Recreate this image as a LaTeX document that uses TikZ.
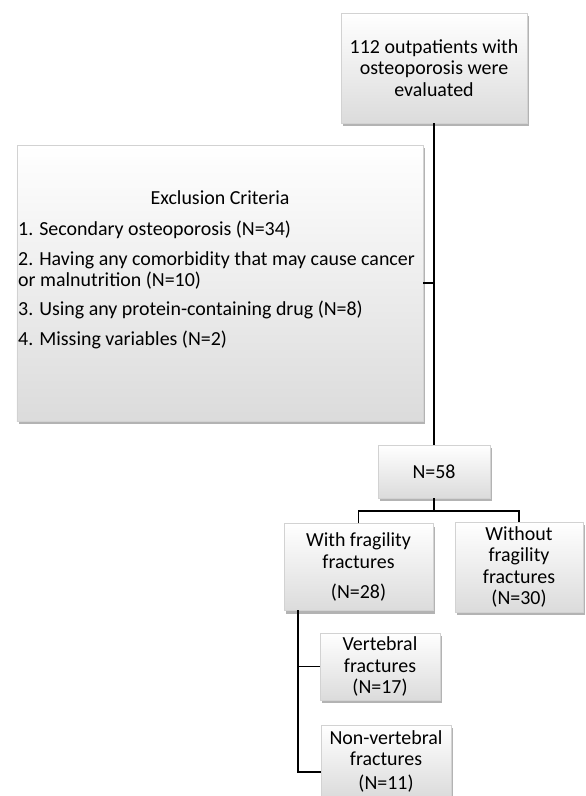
\documentclass[tikz,border=0pt]{standalone}
\usepackage{fontspec}
\setmainfont{Carlito}
\usepackage{tikz}
\usetikzlibrary{shadows}

\begin{document}
\begin{tikzpicture}[x=1bp,y=-1bp,
  every node/.style={font=\fontsize{20}{21.5}\selectfont},
  flowbox/.style={draw=gray!35,line width=0.4pt,top color=white,middle color=gray!6,bottom color=gray!28,
    drop shadow={shadow xshift=2bp,shadow yshift=-3bp,opacity=0.7,fill=gray!85},
    align=center,inner sep=0pt},
  link/.style={line width=1.6bp,black}]
\useasboundingbox (0,0) rectangle (586,796);
\node[flowbox,minimum width=186bp,minimum height=110bp] (top) at (434,68) {112 outpatients with\\osteoporosis were\\evaluated};
\node[flowbox,minimum width=406bp,minimum height=276bp] (excl) at (220,283) {};
\node[inner sep=0pt] (exclhead) at (220,198) {Exclusion Criteria};
\node[anchor=west,align=left,inner sep=0pt] (excllist) at (18,285)
  {1. Secondary osteoporosis (N=34)\\[8bp]
   2. Having any comorbidity that may cause cancer\\
   or malnutrition (N=10)\\[8bp]
   3. Using any protein-containing drug (N=8)\\[8bp]
   4. Missing variables (N=2)};
\node[flowbox,minimum width=112bp,minimum height=53bp] (n58) at (434,471.5) {N=58};
\node[flowbox,minimum width=149bp,minimum height=87bp] (with) at (358.5,567) {With fragility\\fractures\\[9bp](N=28)};
\node[flowbox,minimum width=128bp,minimum height=90bp] (without) at (519,567) {Without\\fragility\\fractures\\(N=30)};
\node[flowbox,minimum width=120bp,minimum height=67bp] (vert) at (380,666.5) {Vertebral\\fractures\\(N=17)};
\node[flowbox,minimum width=130bp,minimum height=72bp,anchor=north] (nonvert) at (386,725) {Non-vertebral\\fractures\\[2bp](N=11)};

\coordinate (br) at (434,511);
\coordinate (wl) at (298,610);
\draw[link] (top.south) -- (n58.north);
\draw[link] (excl.east) -- (excl.east -| top.south);
\draw[link] (n58.south) -- (br);
\draw[link] (with.north) |- (br) -| (without.north);
\draw[link] (wl) |- (vert.west);
\draw[link] (wl) |- ([yshift=-11bp]nonvert.west);
\end{tikzpicture}
\end{document}
